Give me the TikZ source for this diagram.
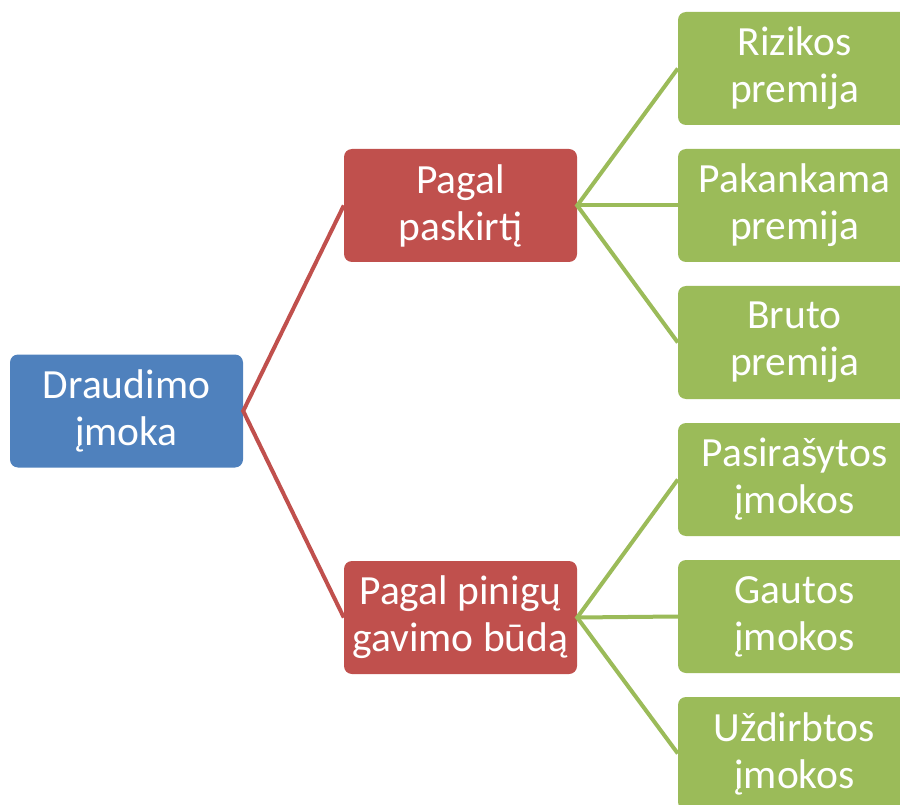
\documentclass[tikz,border=0pt]{standalone}
\usepackage{fontspec}
\setmainfont{Carlito}
\definecolor{cblue}{HTML}{4F81BD}
\definecolor{cred}{HTML}{C0504D}
\definecolor{cgreen}{HTML}{9BBB59}
\tikzset{
  box/.style={rectangle, rounded corners=8pt, minimum width=233pt, minimum height=113pt,
    inner sep=0pt, text=white, align=center, font=\fontsize{41.5}{47}\selectfont},
  rootbox/.style={box, fill=cblue},
  midbox/.style={box, fill=cred},
  leafbox/.style={box, fill=cgreen},
  redline/.style={draw=cred, line width=4pt},
  greenline/.style={draw=cgreen, line width=4pt},
}
\begin{document}
\begin{tikzpicture}[x=1pt, y=-1pt]
\useasboundingbox (0,0) rectangle (900,805);
\clip (0,0) rectangle (900,805);
\node[rootbox] (root) at (126.5,411) {Draudimo\\įmoka};
\node[midbox] (m1) at (460.5,205.5) {Pagal\\paskirtį};
\node[midbox] (m2) at (460.5,617.5) {Pagal pinigų\\gavimo būdą};
\node[leafbox] (l1) at (794.5,68.5) {Rizikos\\premija};
\node[leafbox] (l2) at (794.5,205.5) {Pakankama\\premija};
\node[leafbox] (l3) at (794.5,342.5) {Bruto\\premija};
\node[leafbox] (l4) at (794.5,479.5) {Pasirašytos\\įmokos};
\node[leafbox] (l5) at (794.5,616.5) {Gautos\\įmokos};
\node[leafbox] (l6) at (794.5,753.5) {Uždirbtos\\įmokos};
\draw[redline] (m1.west) -- (root.east) -- (m2.west);
\draw[greenline] (l1.west) -- (m1.east) -- (l3.west);
\draw[greenline] (m1.east) -- (l2.west);
\draw[greenline] (l4.west) -- (m2.east) -- (l6.west);
\draw[greenline] (m2.east) -- (l5.west);
\end{tikzpicture}
\end{document}
